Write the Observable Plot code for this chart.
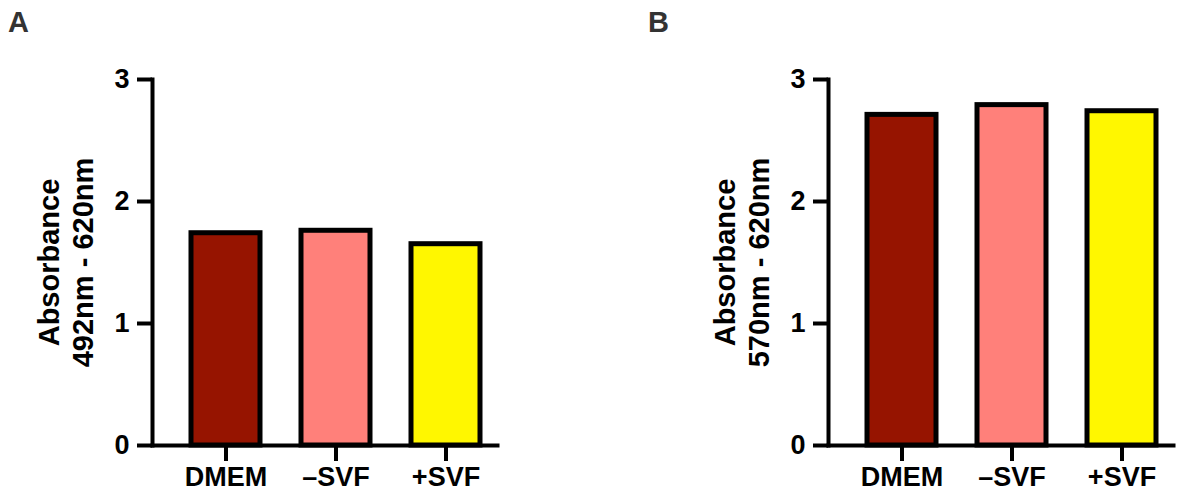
<!DOCTYPE html>
<html>
<head>
<meta charset="utf-8">
<script src="https://cdn.jsdelivr.net/npm/d3@7"></script>
<script src="https://cdn.jsdelivr.net/npm/@observablehq/plot@0.6"></script>
<style>
  html, body { margin: 0; padding: 0; background: #fff; }
  #wrap { position: relative; width: 1190px; height: 498px; overflow: hidden; font-family: "Liberation Sans", Arial, Helvetica, sans-serif; }
  .panel { position: absolute; top: 0; }
  .letter { position: absolute; top: 8px; font-size: 29px; line-height: 29px; font-weight: bold; color: #333; }
</style>
</head>
<body>
<div id="wrap"></div>
<script>
// Absorbance readings for the three culture conditions
const groups = ["DMEM", "–SVF", "+SVF"];
const fills = ["#961400", "#FF807A", "#FFF700"];
const valuesA = [1.74, 1.76, 1.65];
const valuesB = [2.71, 2.79, 2.74];
const yTicks = [0, 1, 2, 3];
const titleA = ["Absorbance", "492nm - 620nm"];
const titleB = ["Absorbance", "570nm - 620nm"];
const panelLetters = ["A", "B"];

const FONT = '"Liberation Sans", Arial, Helvetica, sans-serif';

function panel(values, title) {
  const data = groups.map((g, i) => ({group: g, value: values[i]}));
  return Plot.plot({
    width: 514,
    height: 498,
    marginLeft: 152,
    marginRight: 17,
    marginTop: 79,
    marginBottom: 53,
    style: {fontFamily: FONT, fontSize: "27px", fontWeight: "bold", color: "black", background: "transparent", overflow: "visible"},
    x: {domain: groups, paddingInner: 0.375, paddingOuter: 0.2486, align: 0.7, label: null},
    y: {domain: [0, 3], label: null},
    color: {domain: groups, range: fills},
    marks: [
      Plot.barY(data, {x: "group", y: "value", fill: "group", stroke: "black", strokeWidth: 5}),
      Plot.axisY({ticks: yTicks, tickFormat: d => String(d), tickSize: 15, tickPadding: 8, strokeWidth: 4, label: null, fontSize: 27, fontWeight: "bold"}),
      Plot.axisX({tickSize: 16, tickPadding: 5, strokeWidth: 4, label: null, fontSize: 27, fontWeight: "bold"}),
      Plot.frame({anchor: "left", strokeWidth: 4, strokeLinecap: "square"}),
      Plot.frame({anchor: "bottom", strokeWidth: 4}),
      // two-line rotated y title
      Plot.text([title.join("\n")], {frameAnchor: "left", rotate: -90, dx: -87, fontSize: 29, fontWeight: "bold", lineHeight: 1.17, textAnchor: "middle"})
    ]
  });
}

const wrap = document.getElementById("wrap");
[[valuesA, titleA, 0, 8], [valuesB, titleB, 676, 648]].forEach(([vals, title, left, letterLeft], i) => {
  const box = document.createElement("div");
  box.className = "panel";
  box.style.left = left + "px";
  box.appendChild(panel(vals, title));
  wrap.appendChild(box);
  const letter = document.createElement("div");
  letter.className = "letter";
  letter.style.left = letterLeft + "px";
  letter.textContent = panelLetters[i];
  wrap.appendChild(letter);
});
</script>
</body>
</html>
